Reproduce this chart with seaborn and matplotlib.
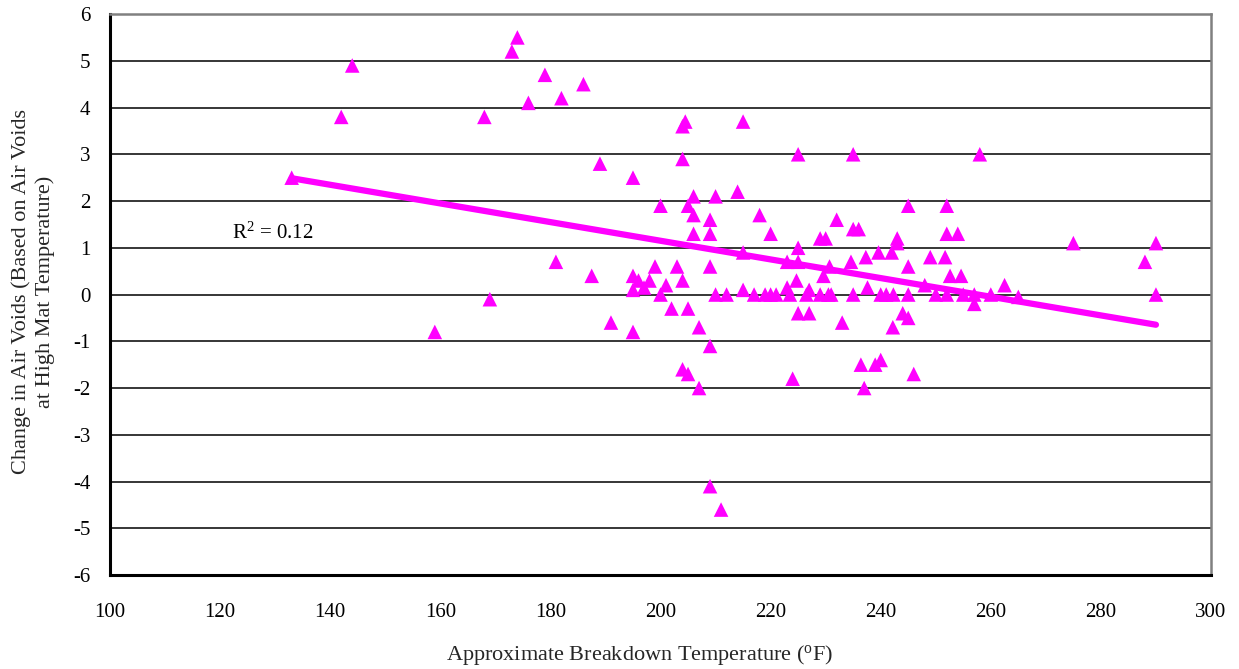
import numpy as np
import pandas as pd
import matplotlib
matplotlib.use("Agg")
import matplotlib.pyplot as plt
import seaborn as sns

# ---- data ----
temp_f = [133, 142, 144, 159, 168, 169, 173, 174, 176, 179, 181, 182, 186, 187.5, 189, 191,
          195, 195, 195, 195, 196, 197, 198, 199, 200, 200, 201, 202, 203,
          204, 204.5, 204, 204, 204, 205, 205, 205, 206, 206, 206, 207, 207,
          209, 209, 209, 209, 209, 210, 210, 211, 212, 214, 215, 215, 215,
          217, 218, 219, 220, 220, 221, 223, 223, 223.5, 224, 224.7, 225, 225, 225, 225,
          226.5, 227, 227, 229, 229, 229.6, 230, 230.5, 230.7, 231, 232, 233, 234.6,
          235, 235, 235, 236, 236.4, 237, 237.3, 237.6, 239, 240, 239.6, 240, 241,
          242, 242.2, 242.3, 243, 243, 244, 245, 245, 245, 245, 246, 248, 249, 250,
          251.7, 252, 252, 252, 252.6, 254, 254.6, 255, 257, 257, 258, 260, 262.5,
          265, 275, 288, 290, 290]
delta_av = [2.5, 3.8, 4.9, -0.8, 3.8, -0.1, 5.2, 5.5, 4.1, 4.7, 0.7, 4.2, 4.5, 0.4, 2.8, -0.6,
            2.5, 0.4, 0.1, -0.8, 0.3, 0.15, 0.3, 0.6, 1.9, 0.0, 0.2, -0.3, 0.6,
            3.6, 3.7, 2.9, 0.3, -1.6, -1.7, -0.3, 1.9, 2.1, 1.7, 1.3, -0.7, -2.0,
            1.6, 1.3, 0.6, -1.1, -4.1, 2.1, 0.0, -4.6, 0.0, 2.2, 3.7, 0.1, 0.9,
            0.0, 1.7, 0.0, 1.3, 0.0, 0.0, 0.7, 0.15, 0.0, -1.8, 0.3, 3.0, 1.0, 0.7, -0.4,
            0.0, 0.1, -0.4, 1.2, 0.0, 0.4, 1.2, 0.0, 0.6, 0.0, 1.6, -0.6, 0.7,
            3.0, 1.4, 0.0, 1.4, -1.5, -2.0, 0.8, 0.15, -1.5, -1.4, 0.9, 0.0, 0.0,
            0.9, -0.7, 0.0, 1.2, 1.1, -0.4, -0.5, 1.9, 0.6, 0.0, -1.7, 0.2, 0.8, 0.0,
            0.8, 1.9, 1.3, 0.0, 0.4, 1.3, 0.4, 0.0, -0.2, 0.0, 3.0, 0.0, 0.2,
            -0.05, 1.1, 0.7, 1.1, 0.0]

x_ticks = [100, 120, 140, 160, 180, 200, 220, 240, 260, 280, 300]
y_ticks = [-6, -5, -4, -3, -2, -1, 0, 1, 2, 3, 4, 5, 6]
r2_label = "R$^{2}$ = 0.12"

df = pd.DataFrame({"temp": temp_f, "dav": delta_av})

sns.set_style("white")
plt.rcParams["font.family"] = ["Liberation Serif", "DejaVu Serif"]
plt.rcParams["mathtext.fontset"] = "custom"
plt.rcParams["mathtext.rm"] = "Liberation Serif"
plt.rcParams["mathtext.it"] = "Liberation Serif:italic"
plt.rcParams["mathtext.bf"] = "Liberation Serif:bold"
plt.rcParams["axes.unicode_minus"] = False

MAG = "#FF00FF"
fig = plt.figure(figsize=(12.39, 6.69), dpi=100)
ax = fig.add_axes([0.0888, 0.1405, 0.8886, 0.8385])

sns.scatterplot(data=df, x="temp", y="dav", marker="^", s=110, color=MAG,
                edgecolor="none", linewidth=0, ax=ax, zorder=3)

# linear trend line fitted to the data
slope, intercept = np.polyfit(df["temp"], df["dav"], 1)
fit = pd.DataFrame({"temp": [df["temp"].min(), df["temp"].max()]})
fit["dav"] = intercept + slope * fit["temp"]
sns.lineplot(data=fit, x="temp", y="dav", color=MAG, linewidth=4.5, ax=ax, zorder=4,
             solid_capstyle="round")

ax.text(122.2, 1.2, r2_label, fontsize=15, color="black", ha="left", va="baseline")

ax.set_xlim(100, 300)
ax.set_ylim(-6, 6)
ax.set_xticks(x_ticks)
ax.set_yticks(y_ticks)
ax.yaxis.grid(True, color="black", linewidth=1.1)
ax.xaxis.grid(False)
ax.set_axisbelow(True)

for s in ["left", "bottom"]:
    ax.spines[s].set_color("black")
    ax.spines[s].set_linewidth(2.2)
for s in ["top", "right"]:
    ax.spines[s].set_color("#808080")
    ax.spines[s].set_linewidth(1.8)

ax.tick_params(axis="both", which="major", direction="out", length=5, width=1.8,
               color="black", labelsize=15, labelcolor="black")
ax.tick_params(axis="x", pad=15)
ax.tick_params(axis="y", pad=9)

ax.set_xlabel("Approximate Breakdown Temperature ($^{\\mathrm{o}}$F)", fontsize=16)
ax.xaxis.set_label_coords(0.481, -0.121)
ax.set_ylabel("Change in Air Voids (Based on Air Voids\nat High Mat Temperature)", fontsize=16,
              linespacing=1.3)
ax.yaxis.set_label_coords(-0.05, 0.505)

fig.savefig("out.png", dpi=100)
